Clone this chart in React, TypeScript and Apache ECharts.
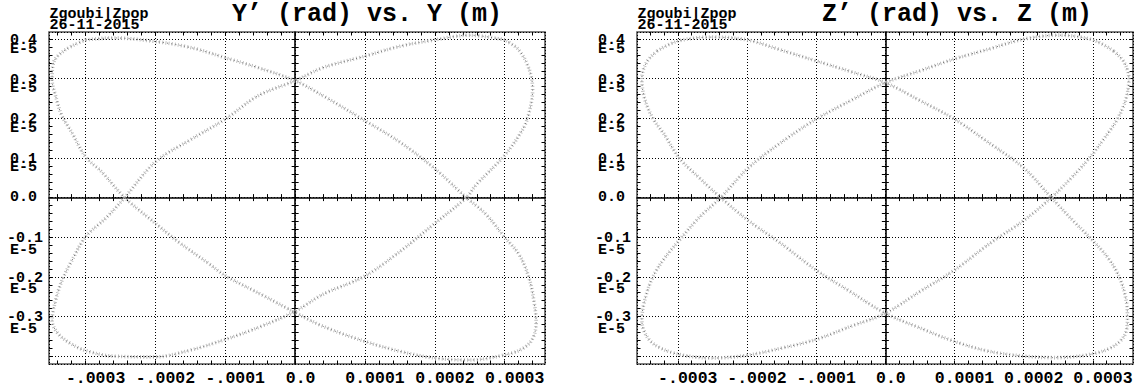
import { useEffect, useRef } from 'react';
import * as echarts from 'echarts';

// Traced bands (x in m, y in rad). Each band is a closed loop.
const Y_BAND_1: [number, number][] = [
  [-0.000300, 0.398e-5], [-0.000262, 0.403e-5], [-0.000200, 0.394e-5], [-0.000148, 0.378e-5],
  [-0.000100, 0.353e-5], [-0.000053, 0.328e-5], [0.000000, 0.295e-5], [0.000040, 0.257e-5],
  [0.000100, 0.194e-5], [0.000150, 0.140e-5], [0.000200, 0.073e-5], [0.000245, 0.000e-5],
  [0.000272, -0.040e-5], [0.000300, -0.100e-5], [0.000321, -0.145e-5], [0.000335, -0.204e-5],
  [0.000342, -0.263e-5], [0.000345, -0.314e-5], [0.000340, -0.356e-5], [0.000326, -0.381e-5],
  [0.000300, -0.397e-5], [0.000250, -0.410e-5], [0.000200, -0.405e-5], [0.000150, -0.388e-5],
  [0.000100, -0.363e-5], [0.000040, -0.325e-5], [0.000000, -0.290e-5], [-0.000048, -0.245e-5],
  [-0.000100, -0.197e-5], [-0.000124, -0.166e-5], [-0.000167, -0.112e-5], [-0.000200, -0.065e-5],
  [-0.000244, 0.000e-5], [-0.000277, 0.065e-5], [-0.000300, 0.103e-5], [-0.000320, 0.165e-5],
  [-0.000334, 0.207e-5], [-0.000343, 0.257e-5], [-0.000348, 0.298e-5], [-0.000346, 0.340e-5],
  [-0.000329, 0.373e-5],
];
const Y_BAND_2: [number, number][] = [
  [0.000300, 0.398e-5], [0.000250, 0.410e-5], [0.000200, 0.398e-5], [0.000150, 0.382e-5],
  [0.000100, 0.357e-5], [0.000040, 0.328e-5], [0.000000, 0.295e-5], [-0.000053, 0.257e-5],
  [-0.000100, 0.198e-5], [-0.000148, 0.148e-5], [-0.000200, 0.090e-5], [-0.000244, 0.000e-5],
  [-0.000270, -0.050e-5], [-0.000300, -0.099e-5], [-0.000320, -0.160e-5], [-0.000334, -0.210e-5],
  [-0.000343, -0.260e-5], [-0.000348, -0.310e-5], [-0.000339, -0.344e-5], [-0.000320, -0.370e-5],
  [-0.000300, -0.386e-5], [-0.000262, -0.400e-5], [-0.000200, -0.402e-5], [-0.000150, -0.385e-5],
  [-0.000100, -0.358e-5], [-0.000053, -0.328e-5], [0.000000, -0.287e-5], [0.000040, -0.244e-5],
  [0.000100, -0.198e-5], [0.000150, -0.136e-5], [0.000200, -0.065e-5], [0.000245, 0.000e-5],
  [0.000259, 0.032e-5], [0.000300, 0.107e-5], [0.000326, 0.173e-5], [0.000335, 0.215e-5],
  [0.000340, 0.273e-5], [0.000335, 0.324e-5], [0.000320, 0.373e-5],
];
const Z_BAND_1: [number, number][] = [
  [-0.000330, 0.370e-5], [-0.000300, 0.395e-5], [-0.000250, 0.405e-5], [-0.000200, 0.398e-5],
  [-0.000150, 0.372e-5], [-0.000100, 0.345e-5], [-0.000050, 0.318e-5], [0.000000, 0.290e-5],
  [0.000050, 0.245e-5], [0.000100, 0.198e-5], [0.000150, 0.138e-5], [0.000200, 0.075e-5],
  [0.000240, 0.000e-5], [0.000269, -0.054e-5], [0.000295, -0.100e-5], [0.000321, -0.150e-5],
  [0.000338, -0.200e-5], [0.000348, -0.258e-5], [0.000350, -0.308e-5], [0.000345, -0.350e-5],
  [0.000326, -0.379e-5], [0.000295, -0.396e-5], [0.000245, -0.404e-5], [0.000200, -0.400e-5],
  [0.000150, -0.388e-5], [0.000100, -0.363e-5], [0.000050, -0.329e-5], [0.000000, -0.292e-5],
  [-0.000050, -0.238e-5], [-0.000100, -0.183e-5], [-0.000150, -0.117e-5], [-0.000198, -0.058e-5],
  [-0.000238, 0.000e-5], [-0.000269, 0.050e-5], [-0.000298, 0.100e-5], [-0.000319, 0.158e-5],
  [-0.000336, 0.200e-5], [-0.000348, 0.250e-5], [-0.000352, 0.300e-5], [-0.000345, 0.342e-5],
];
const Z_BAND_2: [number, number][] = [
  [0.000330, 0.370e-5], [0.000300, 0.398e-5], [0.000250, 0.410e-5], [0.000200, 0.400e-5],
  [0.000150, 0.375e-5], [0.000100, 0.350e-5], [0.000050, 0.320e-5], [0.000000, 0.290e-5],
  [-0.000050, 0.245e-5], [-0.000100, 0.198e-5], [-0.000150, 0.140e-5], [-0.000198, 0.075e-5],
  [-0.000238, 0.000e-5], [-0.000269, -0.050e-5], [-0.000298, -0.108e-5], [-0.000320, -0.155e-5],
  [-0.000336, -0.200e-5], [-0.000348, -0.260e-5], [-0.000352, -0.310e-5], [-0.000345, -0.350e-5],
  [-0.000330, -0.375e-5], [-0.000300, -0.395e-5], [-0.000250, -0.405e-5], [-0.000200, -0.398e-5],
  [-0.000150, -0.380e-5], [-0.000100, -0.358e-5], [-0.000050, -0.325e-5], [0.000000, -0.292e-5],
  [0.000050, -0.237e-5], [0.000100, -0.183e-5], [0.000150, -0.117e-5], [0.000200, -0.058e-5],
  [0.000240, 0.000e-5], [0.000269, 0.050e-5], [0.000295, 0.100e-5], [0.000320, 0.158e-5],
  [0.000336, 0.200e-5], [0.000348, 0.250e-5], [0.000352, 0.300e-5], [0.000345, 0.342e-5],
];

const X_TICK_VALUES = [-0.0003, -0.0002, -0.0001, 0, 0.0001, 0.0002, 0.0003];
const X_TICK_LABELS = ['-.0003', '-.0002', '-.0001', '0.0', '0.0001', '0.0002', '0.0003'];
const Y_TICK_VALUES = [0.4e-5, 0.3e-5, 0.2e-5, 0.1e-5, 0, -0.1e-5, -0.2e-5, -0.3e-5];
const Y_TICK_LABELS = ['0.4', '0.3', '0.2', '0.1', '0.0', '-0.1', '-0.2', '-0.3'];
const Y_EXPONENT = 'E-5';

const PANELS = [
  { title: 'Y’ (rad) vs. Y (m)', bands: [Y_BAND_1, Y_BAND_2], xMin: -0.0003524, xMax: 0.0003577, yMin: -0.42e-5, yMax: 0.418e-5, left: 49, titleX: 232 },
  { title: 'Z’ (rad) vs. Z (m)', bands: [Z_BAND_1, Z_BAND_2], xMin: -0.000359, xMax: 0.000358, yMin: -0.42e-5, yMax: 0.418e-5, left: 637, titleX: 822 },
];

const FONT = '"Liberation Mono", "Courier New", monospace';
const TOP = 32;
const H = 332;
const W = 496;

function buildOption() {
  const grid: any[] = [];
  const xAxis: any[] = [];
  const yAxis: any[] = [];
  const series: any[] = [];
  const graphic: any[] = [];
  const tickStyle = { color: '#000', width: 1 };
  const yFont = { fontFamily: FONT, fontWeight: 'bold', fontSize: 15, color: '#000' };
  const xFont = { fontFamily: FONT, fontWeight: 'bold', fontSize: 16.5, color: '#000' };

  PANELS.forEach((p) => {
    const px = (v: number) => p.left + ((v - p.xMin) / (p.xMax - p.xMin)) * W;
    const py = (v: number) => TOP + ((p.yMax - v) / (p.yMax - p.yMin)) * H;
    const hx = (gi: number) => ({ gridIndex: gi, type: 'value', min: p.xMin, max: p.xMax, show: false });
    const hy = (gi: number) => ({ gridIndex: gi, type: 'value', min: p.yMin, max: p.yMax, show: false });

    // main grid
    const gMain = grid.length;
    grid.push({ left: p.left, top: TOP, width: W, height: H, show: true, borderColor: '#555', borderWidth: 1.6, backgroundColor: 'transparent' });
    const xMainIdx = xAxis.length;
    xAxis.push({
      gridIndex: gMain, type: 'value', min: p.xMin, max: p.xMax, splitNumber: 7, position: 'bottom',
      axisLine: { show: false, onZero: false }, axisTick: { show: false },
      axisLabel: {
        show: true, showMinLabel: false, showMaxLabel: false, margin: 6,
        formatter: (v: number) => {
          const i = X_TICK_VALUES.findIndex((t) => Math.abs(t - v) < 1e-9);
          if (i < 0) return '';
          return X_TICK_VALUES[i] === 0 ? `{s|${X_TICK_LABELS[i]}}` : `{l|${X_TICK_LABELS[i]}}`;
        },
        rich: {
          s: { ...xFont, padding: [0, 0, 0, 11] },
          l: { ...xFont, padding: [0, 0, 0, 20] },
        },
      },
      splitLine: { show: true, lineStyle: { color: '#000', width: 1, type: [1, 2] } },
    });
    xAxis.push({
      gridIndex: gMain, type: 'value', min: p.xMin, max: p.xMax, position: 'top',
      axisLine: { show: true, onZero: true, lineStyle: { color: '#000', width: 1.6 } },
      axisTick: { show: false }, axisLabel: { show: false }, splitLine: { show: false },
    });
    const yMainIdx = yAxis.length;
    yAxis.push({
      gridIndex: gMain, type: 'value', min: p.yMin, max: p.yMax, splitNumber: 8, position: 'left',
      axisLine: { show: false, onZero: false }, axisTick: { show: false },
      axisLabel: {
        show: true, showMinLabel: false, showMaxLabel: false, margin: 42, align: 'left', verticalAlign: 'top',
        formatter: (v: number) => {
          const i = Y_TICK_VALUES.findIndex((t) => Math.abs(t - v) < 1e-12);
          if (i < 0) return '';
          const val = Y_TICK_VALUES[i];
          if (val === 0) return `{z|${Y_TICK_LABELS[i]}}`;
          if (val > 0) return `{n|${Y_TICK_LABELS[i]}}\n{e|${Y_EXPONENT}}`;
          return `{m|${Y_TICK_LABELS[i]}}\n{f|${Y_EXPONENT}}`;
        },
        rich: {
          z: { ...yFont, lineHeight: 0.5, padding: [0, 0, 0, 3] },
          n: { ...yFont, lineHeight: 3, padding: [0, 0, 0, 3] },
          e: { ...yFont, lineHeight: 14, padding: [0, 0, 0, 3] },
          m: { ...yFont, lineHeight: 3 },
          f: { ...yFont, lineHeight: 20, padding: [0, 0, 0, 3] },
        },
      },
      splitLine: { show: true, lineStyle: { color: '#000', width: 1, type: [1, 2] } },
    });
    yAxis.push({
      gridIndex: gMain, type: 'value', min: p.yMin, max: p.yMax, position: 'right',
      axisLine: { show: true, onZero: true, lineStyle: { color: '#000', width: 1.6 } },
      axisTick: { show: false }, axisLabel: { show: false }, splitLine: { show: false },
    });

    // minor ticks along x (border and zero line)
    const xtRect = { left: px(-0.00034), width: px(0.00034) - px(-0.00034), top: TOP, height: H };
    const tickX = (gi: number, position: string, onZero: boolean) => ({
      gridIndex: gi, type: 'value', min: -0.00034, max: 0.00034, interval: 0.00002, position,
      axisLine: { show: false, onZero }, axisTick: { show: true, inside: true, length: 3.5, lineStyle: tickStyle },
      axisLabel: { show: false }, splitLine: { show: false },
    });
    const gXt = grid.length;
    grid.push({ ...xtRect });
    xAxis.push(tickX(gXt, 'bottom', false), tickX(gXt, 'top', false));
    yAxis.push(hy(gXt));
    const gXz = grid.length;
    grid.push({ ...xtRect });
    xAxis.push(tickX(gXz, 'bottom', true), tickX(gXz, 'top', true));
    yAxis.push(hy(gXz), hy(gXz));

    // minor ticks along y
    const ytRect = { left: p.left, width: W, top: py(0.4e-5), height: py(-0.4e-5) - py(0.4e-5) };
    const tickY = (gi: number, position: string, onZero: boolean) => ({
      gridIndex: gi, type: 'value', min: -0.4e-5, max: 0.4e-5, interval: 0.02e-5, position,
      axisLine: { show: false, onZero }, axisTick: { show: true, inside: true, length: 3.5, lineStyle: tickStyle },
      axisLabel: { show: false }, splitLine: { show: false },
    });
    const gYt = grid.length;
    grid.push({ ...ytRect });
    yAxis.push(tickY(gYt, 'left', false), tickY(gYt, 'right', false));
    xAxis.push(hx(gYt));
    const gYz = grid.length;
    grid.push({ ...ytRect });
    yAxis.push(tickY(gYz, 'left', true), tickY(gYz, 'right', true));
    xAxis.push(hx(gYz), hx(gYz));

    p.bands.forEach((band) => {
      const data = [...band, band[0]];
      series.push({
        type: 'line', xAxisIndex: xMainIdx, yAxisIndex: yMainIdx, data,
        smooth: 0.35, showSymbol: false, symbol: 'none', silent: true, z: 1,
        lineStyle: { color: '#bdbdbd', width: 3.6, type: [1, 2.2] },
      });
      series.push({
        type: 'line', xAxisIndex: xMainIdx, yAxisIndex: yMainIdx, data,
        smooth: 0.35, showSymbol: false, symbol: 'none', silent: true, z: 2,
        lineStyle: { color: '#6e6e6e', width: 1, type: [1, 3.3] },
      });
    });

    const textStyle = (text: string, size: number) => ({
      text, fontFamily: FONT, fontWeight: 'bold', fontSize: size, fill: '#000',
      align: 'left', verticalAlign: 'middle', textAlign: 'left', textVerticalAlign: 'middle',
    });
    graphic.push(
      { type: 'text', x: p.titleX, y: 14, style: textStyle(p.title, 25) },
      { type: 'text', x: p.left + 0.5, y: 14, style: textStyle('Zgoubi|Zpop', 15) },
      { type: 'text', x: p.left + 0.5, y: 25, style: textStyle('26-11-2015', 15) },
    );
  });

  return { animation: false, backgroundColor: '#fff', grid, xAxis, yAxis, series, graphic };
}

export default function App() {
  const ref = useRef<HTMLDivElement>(null);
  useEffect(() => {
    if (!ref.current) return;
    const chart = echarts.init(ref.current, null, { renderer: 'svg' });
    chart.setOption(buildOption() as any);
    return () => chart.dispose();
  }, []);
  return <div ref={ref} style={{ position: 'absolute', left: 0, top: 0, width: 1136, height: 391, background: '#fff' }} />;
}
